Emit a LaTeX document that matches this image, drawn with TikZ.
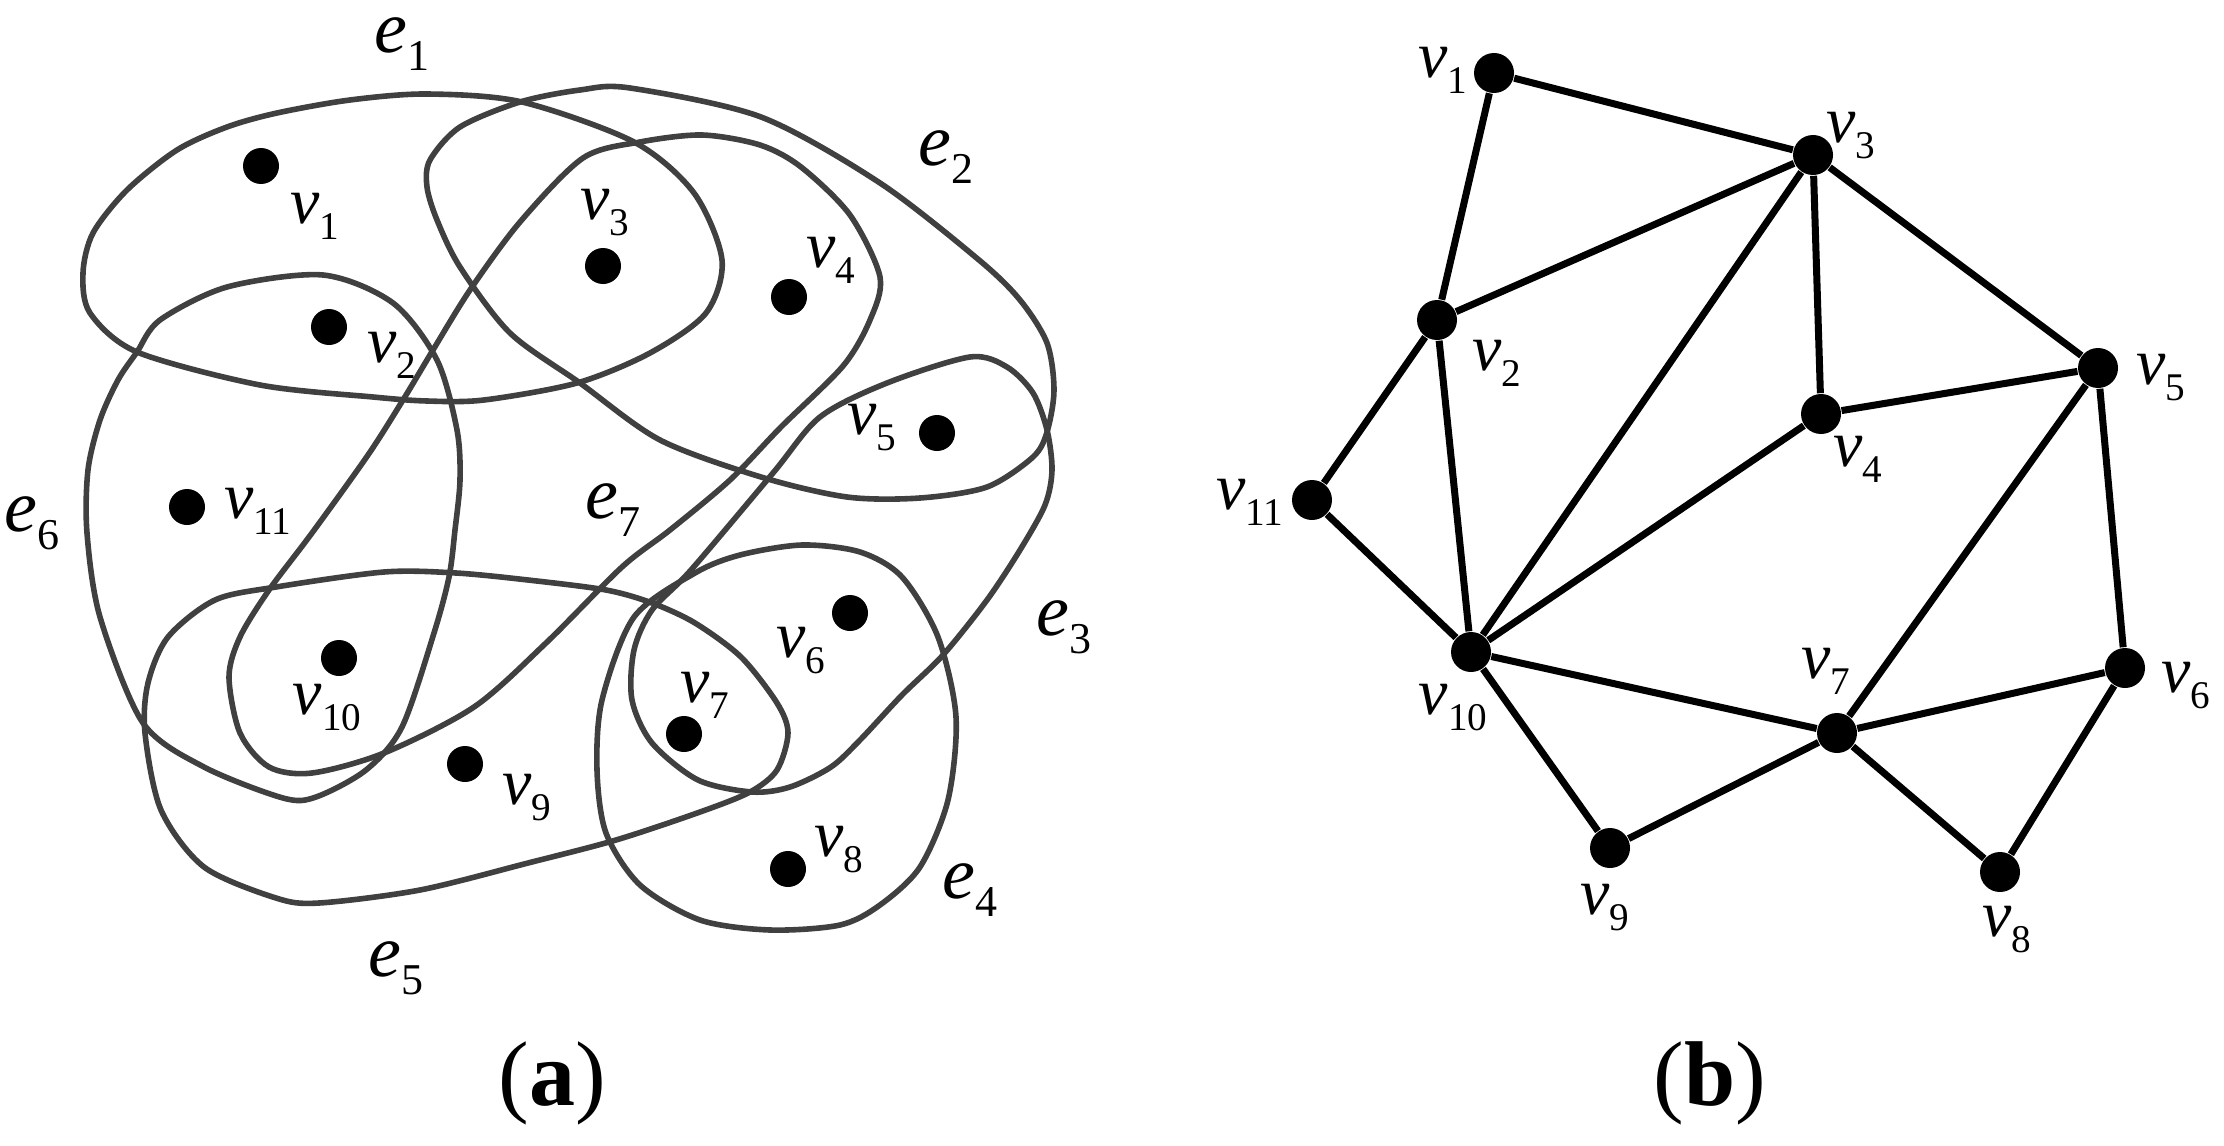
\documentclass[tikz,border=0pt]{standalone}
\usepackage{fontspec}
\setmainfont{Liberation Serif}
\definecolor{hgray}{RGB}{64,64,64}
\newcommand{\vlab}[1]{{\fontsize{16.5pt}{18pt}\selectfont\itshape v}\raisebox{-4pt}{\fontsize{9.8pt}{10pt}\selectfont #1}}
\newcommand{\elab}[1]{{\fontsize{18.5pt}{20pt}\selectfont\itshape e}\raisebox{-4.5pt}{\fontsize{11pt}{12pt}\selectfont #1}}

\begin{document}
\begin{tikzpicture}[x=0.25pt,y=-0.25pt,
  hedge/.style={draw=hgray,line width=1.4pt},
  dot/.style={circle,fill=black,inner sep=0pt,minimum size=9pt},
  bdot/.style={circle,fill=black,inner sep=0pt,minimum size=10pt},
  gedge/.style={line width=1.75pt},
  lbl/.style={inner sep=0pt}]
\useasboundingbox (0,0) rectangle (2224,1145);

\draw[hedge] plot[smooth cycle] coordinates {(83,273) (93,233) (127,190) (177,150) (227,127) (277,113) (350,100) (427,94) (522,102) (634,142) (694,193) (722,260) (706,313) (650,353) (577,383) (484,400) (427,401) (373,397) (260,385) (137,352) (90,313)};
\draw[hedge] plot[smooth cycle] coordinates {(430,160) (460,127) (520,102) (580,90) (630,88) (761,117) (880,183) (979,260) (1020,300) (1047,343) (1054,390) (1047,432) (1033,457) (987,487) (920,498) (847,497) (761,477) (660,440) (580,383) (510,333) (460,267) (437,220) (427,187)};
\draw[hedge] plot[smooth cycle] coordinates {(970,357) (1007,367) (1033,393) (1047,430) (1052,470) (1045,505) (1020,550) (987,600) (943,655) (902,695) (860,740) (831,767) (790,787) (752,792) (698,780) (652,743) (632,700) (634,650) (652,610) (691,570) (773,473) (820,417) (887,383)};
\draw[hedge] plot[smooth cycle] coordinates {(802,545) (740,555) (695,573) (634,617) (602,700) (597,770) (606,833) (640,885) (700,920) (770,930) (840,925) (880,905) (920,867) (948,800) (956,717) (938,637) (902,577) (860,552)};
\draw[hedge] plot[smooth cycle] coordinates {(215,600) (276,587) (384,572) (456,573) (528,580) (606,590) (652,603) (695,623) (741,657) (777,703) (788,733) (777,770) (750,792) (700,812) (616,840) (528,863) (420,890) (319,903) (276,898) (204,867) (161,810) (145,733) (148,683) (168,637)};
\draw[hedge] plot[smooth cycle] coordinates {(323,275) (393,303) (437,360) (457,430) (460,480) (455,530) (449,577) (434,633) (402,727) (366,770) (316,797) (283,798) (204,767) (143,723) (100,617) (87,533) (88,470) (100,420) (118,380) (137,352) (160,320) (227,287)};
\draw[hedge] plot[smooth cycle] coordinates {(583,158) (640,142) (702,135) (760,145) (801,167) (850,215) (880,277) (870,320) (843,366) (781,427) (730,480) (670,530) (622,567) (546,643) (474,707) (384,753) (312,773) (269,767) (240,733) (229,677) (240,637) (269,590) (312,533) (368,455) (403,400) (433,350) (470,290) (520,222)};

\node[dot] (a1) at (261,166) {};
\node[dot] (a2) at (329,327) {};
\node[dot] (a3) at (603,266) {};
\node[dot] (a4) at (789,297) {};
\node[dot] (a5) at (937,433) {};
\node[dot] (a6) at (850,613) {};
\node[dot] (a7) at (684,734) {};
\node[dot] (a8) at (788,869) {};
\node[dot] (a9) at (465,764) {};
\node[dot] (a10) at (339,658) {};
\node[dot] (a11) at (187,507) {};

\node[lbl] (la1) at (315,216) {\vlab{1}};
\node[lbl] (la2) at (392,355) {\vlab{2}};
\node[lbl] (la3) at (605,213) {\vlab{3}};
\node[lbl] (la4) at (831,260) {\vlab{4}};
\node[lbl] (la5) at (872,428) {\vlab{5}};
\node[lbl] (la6) at (801,651) {\vlab{6}};
\node[lbl] (la7) at (705,695) {\vlab{7}};
\node[lbl] (la8) at (839,850) {\vlab{8}};
\node[lbl] (la9) at (527,798) {\vlab{9}};
\node[lbl] (la10) at (327,708) {\vlab{10}};
\node[lbl] (la11) at (258,511) {\vlab{11}};

\node[lbl] (le1) at (402,44) {\elab{1}};
\node[lbl] (le2) at (946,157) {\elab{2}};
\node[lbl] (le3) at (1064,627) {\elab{3}};
\node[lbl] (le4) at (970,890) {\elab{4}};
\node[lbl] (le5) at (396,968) {\elab{5}};
\node[lbl] (le6) at (32,523) {\elab{6}};
\node[lbl] (le7) at (613,510) {\elab{7}};

\node[bdot] (b1) at (1494,73) {};
\node[bdot] (b2) at (1437,320) {};
\node[bdot] (b3) at (1813,155) {};
\node[bdot] (b4) at (1821,414) {};
\node[bdot] (b5) at (2098,368) {};
\node[bdot] (b6) at (2125,668) {};
\node[bdot] (b7) at (1837,733) {};
\node[bdot] (b8) at (2000,872) {};
\node[bdot] (b9) at (1610,848) {};
\node[bdot] (b10) at (1471,652) {};
\node[bdot] (b11) at (1312,500) {};

\draw[gedge] (b1) -- (b3) (b1) -- (b2) (b2) -- (b3) (b2) -- (b11) (b2) -- (b10);
\draw[gedge] (b3) -- (b10) (b3) -- (b4) (b3) -- (b5) (b4) -- (b5) (b4) -- (b10);
\draw[gedge] (b11) -- (b10) (b10) -- (b7) (b10) -- (b9) (b5) -- (b7) (b5) -- (b6);
\draw[gedge] (b6) -- (b7) (b7) -- (b9) (b7) -- (b8) (b6) -- (b8);

\node[lbl] (lb1) at (1443,70) {\vlab{1}};
\node[lbl] (lb2) at (1497,363) {\vlab{2}};
\node[lbl] (lb3) at (1851,136) {\vlab{3}};
\node[lbl] (lb4) at (1858,459) {\vlab{4}};
\node[lbl] (lb5) at (2161,378) {\vlab{5}};
\node[lbl] (lb6) at (2186,686) {\vlab{6}};
\node[lbl] (lb7) at (1826,671) {\vlab{7}};
\node[lbl] (lb8) at (2007,930) {\vlab{8}};
\node[lbl] (lb9) at (1605,908) {\vlab{9}};
\node[lbl] (lb10) at (1453,708) {\vlab{10}};
\node[lbl] (lb11) at (1250,502) {\vlab{11}};

\node (capa) at (552,1083) {\fontsize{23pt}{25pt}\selectfont(\textbf{a})};
\node (capb) at (1710,1083) {\fontsize{23pt}{25pt}\selectfont(\textbf{b})};
\end{tikzpicture}
\end{document}
